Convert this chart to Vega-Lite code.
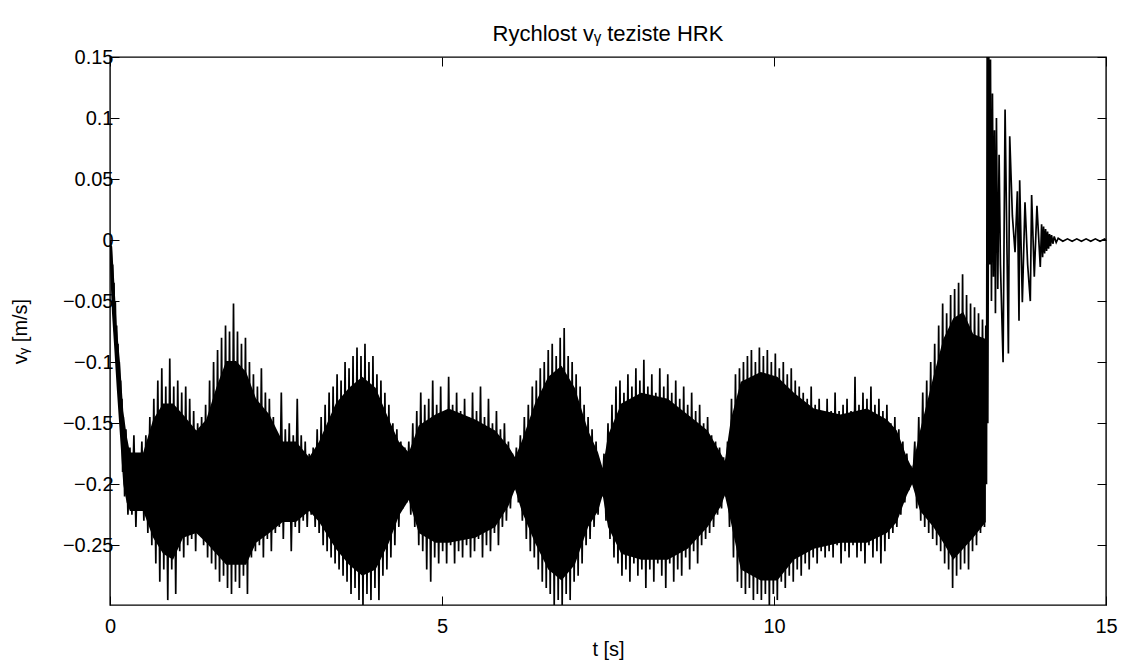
{
"$schema":"https://vega.github.io/schema/vega-lite/v6.json",
"width":996,"height":548,
"autosize":{"type":"none"},
"padding":{"left":110,"top":57,"right":15,"bottom":56},
"background":"white",
"config":{"font":"Liberation Sans","view":{"stroke":"black","strokeWidth":1.4}},
"title":{"text":"Rychlost vᵧ teziste HRK","fontSize":22,"fontWeight":"normal","color":"black","offset":1,"anchor":"middle","font":"Liberation Sans"},
"resolve":{"scale":{"x":"independent","y":"independent"},"axis":{"x":"independent","y":"independent"}},
"layer":[
{"data":{"values":[
{"t":0,"lo":-0.02,"hi":0},{"t":0.03,"lo":-0.06,"hi":-0.005},{"t":0.06,"lo":-0.085,"hi":-0.03},{"t":0.1,"lo":-0.12,"hi":-0.07},{"t":0.15,"lo":-0.16,"hi":-0.1},{"t":0.2,"lo":-0.2,"hi":-0.14},{"t":0.25,"lo":-0.215,"hi":-0.16},
{"t":0.3,"lo":-0.222,"hi":-0.174},{"t":0.5,"lo":-0.222,"hi":-0.174},{"t":0.65,"lo":-0.244,"hi":-0.147},{"t":0.8,"lo":-0.257,"hi":-0.134},{"t":0.95,"lo":-0.262,"hi":-0.134},{"t":1.1,"lo":-0.244,"hi":-0.143},{"t":1.3,"lo":-0.24,"hi":-0.156},{"t":1.45,"lo":-0.248,"hi":-0.147},{"t":1.6,"lo":-0.257,"hi":-0.121},{"t":1.75,"lo":-0.266,"hi":-0.099},{"t":1.9,"lo":-0.266,"hi":-0.099},{"t":2.05,"lo":-0.266,"hi":-0.108},{"t":2.2,"lo":-0.248,"hi":-0.13},{"t":2.4,"lo":-0.24,"hi":-0.143},{"t":2.6,"lo":-0.231,"hi":-0.165},{"t":2.8,"lo":-0.231,"hi":-0.165},{"t":3.0,"lo":-0.222,"hi":-0.178},{"t":3.15,"lo":-0.231,"hi":-0.165},{"t":3.4,"lo":-0.253,"hi":-0.134},{"t":3.6,"lo":-0.266,"hi":-0.121},{"t":3.8,"lo":-0.275,"hi":-0.112},{"t":4.0,"lo":-0.27,"hi":-0.121},{"t":4.2,"lo":-0.248,"hi":-0.147},{"t":4.35,"lo":-0.226,"hi":-0.165},{"t":4.5,"lo":-0.213,"hi":-0.174},{"t":4.65,"lo":-0.24,"hi":-0.152},{"t":4.9,"lo":-0.248,"hi":-0.143},{"t":5.1,"lo":-0.248,"hi":-0.138},{"t":5.5,"lo":-0.244,"hi":-0.147},{"t":5.8,"lo":-0.235,"hi":-0.156},{"t":6.0,"lo":-0.218,"hi":-0.169},{"t":6.1,"lo":-0.204,"hi":-0.178},{"t":6.2,"lo":-0.222,"hi":-0.165},{"t":6.4,"lo":-0.248,"hi":-0.134},{"t":6.6,"lo":-0.27,"hi":-0.112},{"t":6.8,"lo":-0.279,"hi":-0.103},{"t":7.0,"lo":-0.266,"hi":-0.121},{"t":7.2,"lo":-0.235,"hi":-0.156},{"t":7.35,"lo":-0.222,"hi":-0.174},{"t":7.42,"lo":-0.209,"hi":-0.187},{"t":7.5,"lo":-0.235,"hi":-0.16},{"t":7.7,"lo":-0.257,"hi":-0.134},{"t":8.0,"lo":-0.262,"hi":-0.125},{"t":8.4,"lo":-0.262,"hi":-0.13},{"t":8.7,"lo":-0.253,"hi":-0.143},{"t":9.0,"lo":-0.235,"hi":-0.156},{"t":9.2,"lo":-0.218,"hi":-0.175},{"t":9.26,"lo":-0.209,"hi":-0.181},{"t":9.35,"lo":-0.231,"hi":-0.147},{"t":9.5,"lo":-0.27,"hi":-0.116},{"t":9.8,"lo":-0.279,"hi":-0.108},{"t":10.05,"lo":-0.279,"hi":-0.112},{"t":10.3,"lo":-0.262,"hi":-0.125},{"t":10.6,"lo":-0.253,"hi":-0.138},{"t":11.0,"lo":-0.248,"hi":-0.143},{"t":11.4,"lo":-0.248,"hi":-0.138},{"t":11.7,"lo":-0.24,"hi":-0.147},{"t":11.85,"lo":-0.231,"hi":-0.156},{"t":12.0,"lo":-0.209,"hi":-0.178},{"t":12.08,"lo":-0.2,"hi":-0.187},{"t":12.2,"lo":-0.222,"hi":-0.156},{"t":12.4,"lo":-0.235,"hi":-0.112},{"t":12.55,"lo":-0.248,"hi":-0.081},{"t":12.7,"lo":-0.262,"hi":-0.064},{"t":12.85,"lo":-0.253,"hi":-0.059},{"t":13.0,"lo":-0.244,"hi":-0.077},{"t":13.19,"lo":-0.231,"hi":-0.081}
]},
"mark":{"type":"area","color":"black","opacity":1,"clip":true},
"encoding":{
"x":{"field":"t","type":"quantitative","scale":{"domain":[0,15],"nice":false,"zero":false},"axis":null},
"y":{"field":"lo","type":"quantitative","scale":{"domain":[-0.299,0.15],"nice":false,"zero":false},"axis":null},
"y2":{"field":"hi"}
}},
{"data":{"values":[
{"t":0,"v":0.0},{"t":0.01,"v":-0.02},{"t":0.02,"v":-0.005},{"t":0.03,"v":-0.04},{"t":0.04,"v":-0.02},{"t":0.05,"v":-0.06},{"t":0.06,"v":-0.035},{"t":0.07,"v":-0.075},{"t":0.08,"v":-0.05},{"t":0.09,"v":-0.085},{"t":0.10,"v":-0.07},{"t":0.11,"v":-0.1},{"t":0.12,"v":-0.085},{"t":0.13,"v":-0.12},{"t":0.14,"v":-0.1},{"t":0.15,"v":-0.14},{"t":0.16,"v":-0.115},{"t":0.17,"v":-0.16},{"t":0.18,"v":-0.13},{"t":0.19,"v":-0.19},{"t":0.20,"v":-0.145},{"t":0.22,"v":-0.21},{"t":0.24,"v":-0.155},{"t":0.27,"v":-0.225},
{"t":0.30,"v":-0.17},{"t":0.33,"v":-0.225},{"t":0.36,"v":-0.16},{"t":0.39,"v":-0.235},{"t":0.42,"v":-0.175},{"t":0.45,"v":-0.22},{"t":0.48,"v":-0.165},{"t":0.51,"v":-0.23},{"t":0.54,"v":-0.16},
{"t":0.57,"v":-0.24},{"t":0.60,"v":-0.145},{"t":0.63,"v":-0.25},{"t":0.66,"v":-0.13},{"t":0.69,"v":-0.265},{"t":0.72,"v":-0.115},{"t":0.75,"v":-0.28},{"t":0.78,"v":-0.105},{"t":0.81,"v":-0.27},{"t":0.84,"v":-0.12},{"t":0.87,"v":-0.295},{"t":0.90,"v":-0.097},{"t":0.93,"v":-0.27},{"t":0.96,"v":-0.12},{"t":0.99,"v":-0.29},{"t":1.02,"v":-0.115},{"t":1.05,"v":-0.255},{"t":1.08,"v":-0.125},{"t":1.11,"v":-0.26},{"t":1.14,"v":-0.12},{"t":1.17,"v":-0.25},{"t":1.20,"v":-0.13},{"t":1.23,"v":-0.245},{"t":1.26,"v":-0.14},{"t":1.29,"v":-0.255},{"t":1.32,"v":-0.15},{"t":1.35,"v":-0.24},{"t":1.38,"v":-0.145},{"t":1.41,"v":-0.25},{"t":1.44,"v":-0.135},{"t":1.47,"v":-0.26},
{"t":1.50,"v":-0.115},{"t":1.53,"v":-0.265},{"t":1.56,"v":-0.1},{"t":1.59,"v":-0.27},{"t":1.62,"v":-0.09},{"t":1.65,"v":-0.28},{"t":1.68,"v":-0.08},{"t":1.71,"v":-0.275},{"t":1.74,"v":-0.07},{"t":1.77,"v":-0.285},{"t":1.80,"v":-0.075},{"t":1.83,"v":-0.29},{"t":1.86,"v":-0.052},{"t":1.89,"v":-0.28},{"t":1.92,"v":-0.075},{"t":1.95,"v":-0.285},{"t":1.98,"v":-0.085},{"t":2.01,"v":-0.275},{"t":2.04,"v":-0.08},{"t":2.07,"v":-0.29},
{"t":2.10,"v":-0.1},{"t":2.13,"v":-0.26},{"t":2.16,"v":-0.11},{"t":2.19,"v":-0.255},{"t":2.22,"v":-0.12},{"t":2.25,"v":-0.25},{"t":2.28,"v":-0.105},{"t":2.31,"v":-0.26},{"t":2.34,"v":-0.125},{"t":2.37,"v":-0.245},{"t":2.40,"v":-0.13},{"t":2.43,"v":-0.255},
{"t":2.46,"v":-0.145},{"t":2.49,"v":-0.24},{"t":2.52,"v":-0.16},{"t":2.55,"v":-0.235},{"t":2.58,"v":-0.125},{"t":2.61,"v":-0.245},{"t":2.64,"v":-0.155},{"t":2.67,"v":-0.23},{"t":2.70,"v":-0.15},{"t":2.73,"v":-0.255},{"t":2.76,"v":-0.16},{"t":2.79,"v":-0.235},{"t":2.82,"v":-0.13},{"t":2.85,"v":-0.24},{"t":2.88,"v":-0.16},{"t":2.91,"v":-0.23},{"t":2.94,"v":-0.165},{"t":2.97,"v":-0.235},
{"t":3.00,"v":-0.175},{"t":3.03,"v":-0.225},{"t":3.06,"v":-0.17},{"t":3.09,"v":-0.235},
{"t":3.12,"v":-0.155},{"t":3.15,"v":-0.24},{"t":3.18,"v":-0.145},{"t":3.21,"v":-0.25},{"t":3.24,"v":-0.135},{"t":3.27,"v":-0.255},{"t":3.30,"v":-0.125},{"t":3.33,"v":-0.26},{"t":3.36,"v":-0.12},{"t":3.39,"v":-0.265},{"t":3.42,"v":-0.11},{"t":3.45,"v":-0.27},{"t":3.48,"v":-0.115},{"t":3.51,"v":-0.275},{"t":3.54,"v":-0.1},{"t":3.57,"v":-0.28},{"t":3.60,"v":-0.105},{"t":3.63,"v":-0.29},{"t":3.66,"v":-0.095},{"t":3.69,"v":-0.285},{"t":3.72,"v":-0.088},{"t":3.75,"v":-0.295},{"t":3.78,"v":-0.095},{"t":3.81,"v":-0.3},{"t":3.84,"v":-0.085},{"t":3.87,"v":-0.29},{"t":3.90,"v":-0.1},{"t":3.93,"v":-0.295},{"t":3.96,"v":-0.095},{"t":3.99,"v":-0.285},{"t":4.02,"v":-0.11},{"t":4.05,"v":-0.295},{"t":4.08,"v":-0.115},{"t":4.11,"v":-0.275},{"t":4.14,"v":-0.125},{"t":4.17,"v":-0.27},{"t":4.20,"v":-0.135},{"t":4.23,"v":-0.26},{"t":4.26,"v":-0.15},
{"t":4.29,"v":-0.25},{"t":4.32,"v":-0.155},{"t":4.35,"v":-0.235},{"t":4.38,"v":-0.165},{"t":4.41,"v":-0.22},{"t":4.44,"v":-0.17},{"t":4.47,"v":-0.215},{"t":4.50,"v":-0.165},{"t":4.53,"v":-0.225},
{"t":4.56,"v":-0.15},{"t":4.59,"v":-0.235},{"t":4.62,"v":-0.14},{"t":4.65,"v":-0.25},{"t":4.68,"v":-0.125},{"t":4.71,"v":-0.255},{"t":4.74,"v":-0.135},{"t":4.77,"v":-0.27},{"t":4.80,"v":-0.13},{"t":4.83,"v":-0.28},{"t":4.86,"v":-0.115},{"t":4.89,"v":-0.26},{"t":4.92,"v":-0.135},{"t":4.95,"v":-0.265},{"t":4.98,"v":-0.12},{"t":5.01,"v":-0.255},{"t":5.04,"v":-0.14},{"t":5.07,"v":-0.265},{"t":5.10,"v":-0.112},{"t":5.13,"v":-0.25},{"t":5.16,"v":-0.135},{"t":5.19,"v":-0.265},{"t":5.22,"v":-0.125},{"t":5.25,"v":-0.255},{"t":5.28,"v":-0.14},{"t":5.31,"v":-0.26},{"t":5.34,"v":-0.13},{"t":5.37,"v":-0.25},{"t":5.40,"v":-0.145},{"t":5.43,"v":-0.26},{"t":5.46,"v":-0.125},{"t":5.49,"v":-0.255},{"t":5.52,"v":-0.14},{"t":5.55,"v":-0.245},{"t":5.58,"v":-0.12},{"t":5.61,"v":-0.26},{"t":5.64,"v":-0.145},{"t":5.67,"v":-0.25},{"t":5.70,"v":-0.13},{"t":5.73,"v":-0.255},{"t":5.76,"v":-0.15},{"t":5.79,"v":-0.24},{"t":5.82,"v":-0.14},{"t":5.85,"v":-0.25},{"t":5.88,"v":-0.155},{"t":5.91,"v":-0.235},{"t":5.94,"v":-0.15},{"t":5.97,"v":-0.23},{"t":6.00,"v":-0.165},{"t":6.03,"v":-0.22},
{"t":6.06,"v":-0.175},{"t":6.09,"v":-0.205},{"t":6.12,"v":-0.17},{"t":6.15,"v":-0.215},
{"t":6.18,"v":-0.16},{"t":6.21,"v":-0.23},{"t":6.24,"v":-0.145},{"t":6.27,"v":-0.245},{"t":6.30,"v":-0.135},{"t":6.33,"v":-0.255},{"t":6.36,"v":-0.12},{"t":6.39,"v":-0.26},{"t":6.42,"v":-0.115},{"t":6.45,"v":-0.27},{"t":6.48,"v":-0.105},{"t":6.51,"v":-0.28},{"t":6.54,"v":-0.1},{"t":6.57,"v":-0.285},{"t":6.60,"v":-0.09},{"t":6.63,"v":-0.29},{"t":6.66,"v":-0.085},{"t":6.69,"v":-0.3},{"t":6.72,"v":-0.095},{"t":6.75,"v":-0.295},{"t":6.78,"v":-0.08},{"t":6.81,"v":-0.3},{"t":6.84,"v":-0.072},{"t":6.87,"v":-0.29},{"t":6.90,"v":-0.095},{"t":6.93,"v":-0.295},{"t":6.96,"v":-0.1},{"t":6.99,"v":-0.28},{"t":7.02,"v":-0.11},{"t":7.05,"v":-0.275},{"t":7.08,"v":-0.12},{"t":7.11,"v":-0.265},{"t":7.14,"v":-0.135},{"t":7.17,"v":-0.25},{"t":7.20,"v":-0.145},{"t":7.23,"v":-0.245},{"t":7.26,"v":-0.155},{"t":7.29,"v":-0.235},{"t":7.32,"v":-0.165},{"t":7.35,"v":-0.225},
{"t":7.38,"v":-0.185},{"t":7.41,"v":-0.21},{"t":7.44,"v":-0.175},{"t":7.47,"v":-0.23},
{"t":7.50,"v":-0.15},{"t":7.53,"v":-0.245},{"t":7.56,"v":-0.135},{"t":7.59,"v":-0.26},{"t":7.62,"v":-0.12},{"t":7.65,"v":-0.265},{"t":7.68,"v":-0.115},{"t":7.71,"v":-0.275},{"t":7.74,"v":-0.125},{"t":7.77,"v":-0.27},{"t":7.80,"v":-0.11},{"t":7.83,"v":-0.28},{"t":7.86,"v":-0.12},{"t":7.89,"v":-0.265},{"t":7.92,"v":-0.105},{"t":7.95,"v":-0.275},{"t":7.98,"v":-0.115},{"t":8.01,"v":-0.27},{"t":8.04,"v":-0.098},{"t":8.07,"v":-0.285},{"t":8.10,"v":-0.12},{"t":8.13,"v":-0.27},{"t":8.16,"v":-0.11},{"t":8.19,"v":-0.28},{"t":8.22,"v":-0.125},{"t":8.25,"v":-0.265},{"t":8.28,"v":-0.105},{"t":8.31,"v":-0.275},{"t":8.34,"v":-0.12},{"t":8.37,"v":-0.285},{"t":8.40,"v":-0.11},{"t":8.43,"v":-0.265},{"t":8.46,"v":-0.125},{"t":8.49,"v":-0.28},{"t":8.52,"v":-0.115},{"t":8.55,"v":-0.27},{"t":8.58,"v":-0.13},{"t":8.61,"v":-0.275},{"t":8.64,"v":-0.12},{"t":8.67,"v":-0.26},{"t":8.70,"v":-0.135},{"t":8.73,"v":-0.27},{"t":8.76,"v":-0.125},{"t":8.79,"v":-0.255},{"t":8.82,"v":-0.14},{"t":8.85,"v":-0.265},{"t":8.88,"v":-0.135},{"t":8.91,"v":-0.25},{"t":8.94,"v":-0.15},{"t":8.97,"v":-0.245},{"t":9.00,"v":-0.145},{"t":9.03,"v":-0.24},{"t":9.06,"v":-0.16},{"t":9.09,"v":-0.235},{"t":9.12,"v":-0.165},{"t":9.15,"v":-0.225},{"t":9.18,"v":-0.17},{"t":9.21,"v":-0.22},
{"t":9.24,"v":-0.178},{"t":9.27,"v":-0.21},{"t":9.30,"v":-0.165},{"t":9.33,"v":-0.235},
{"t":9.36,"v":-0.13},{"t":9.39,"v":-0.26},{"t":9.42,"v":-0.11},{"t":9.45,"v":-0.28},{"t":9.48,"v":-0.105},{"t":9.51,"v":-0.285},{"t":9.54,"v":-0.1},{"t":9.57,"v":-0.29},{"t":9.60,"v":-0.095},{"t":9.63,"v":-0.285},{"t":9.66,"v":-0.09},{"t":9.69,"v":-0.295},{"t":9.72,"v":-0.1},{"t":9.75,"v":-0.29},{"t":9.78,"v":-0.088},{"t":9.81,"v":-0.295},{"t":9.84,"v":-0.095},{"t":9.87,"v":-0.29},{"t":9.90,"v":-0.09},{"t":9.93,"v":-0.3},{"t":9.96,"v":-0.1},{"t":9.99,"v":-0.29},{"t":10.02,"v":-0.093},{"t":10.05,"v":-0.295},{"t":10.08,"v":-0.105},{"t":10.11,"v":-0.28},
{"t":10.14,"v":-0.1},{"t":10.17,"v":-0.285},{"t":10.20,"v":-0.11},{"t":10.23,"v":-0.275},{"t":10.26,"v":-0.105},{"t":10.29,"v":-0.28},{"t":10.32,"v":-0.115},{"t":10.35,"v":-0.27},{"t":10.38,"v":-0.12},{"t":10.41,"v":-0.275},{"t":10.44,"v":-0.125},{"t":10.47,"v":-0.265},{"t":10.50,"v":-0.13},{"t":10.53,"v":-0.27},{"t":10.56,"v":-0.12},{"t":10.59,"v":-0.26},{"t":10.62,"v":-0.135},{"t":10.65,"v":-0.265},{"t":10.68,"v":-0.13},{"t":10.71,"v":-0.255},{"t":10.74,"v":-0.14},{"t":10.77,"v":-0.26},{"t":10.80,"v":-0.13},{"t":10.83,"v":-0.255},{"t":10.86,"v":-0.14},{"t":10.89,"v":-0.26},{"t":10.92,"v":-0.125},{"t":10.95,"v":-0.25},{"t":10.98,"v":-0.14},{"t":11.01,"v":-0.265},{"t":11.04,"v":-0.135},{"t":11.07,"v":-0.255},{"t":11.10,"v":-0.13},{"t":11.13,"v":-0.26},{"t":11.16,"v":-0.14},{"t":11.19,"v":-0.25},{"t":11.22,"v":-0.112},{"t":11.25,"v":-0.26},{"t":11.28,"v":-0.135},{"t":11.31,"v":-0.255},{"t":11.34,"v":-0.125},{"t":11.37,"v":-0.265},{"t":11.40,"v":-0.13},{"t":11.43,"v":-0.25},{"t":11.46,"v":-0.12},{"t":11.49,"v":-0.26},{"t":11.52,"v":-0.135},{"t":11.55,"v":-0.255},{"t":11.58,"v":-0.13},{"t":11.61,"v":-0.265},{"t":11.64,"v":-0.14},{"t":11.67,"v":-0.255},{"t":11.70,"v":-0.135},{"t":11.73,"v":-0.245},{"t":11.76,"v":-0.15},{"t":11.79,"v":-0.24},{"t":11.82,"v":-0.145},{"t":11.85,"v":-0.235},
{"t":11.88,"v":-0.155},{"t":11.91,"v":-0.225},{"t":11.94,"v":-0.165},{"t":11.97,"v":-0.215},{"t":12.00,"v":-0.175},{"t":12.03,"v":-0.205},{"t":12.06,"v":-0.185},{"t":12.09,"v":-0.2},
{"t":12.12,"v":-0.165},{"t":12.15,"v":-0.22},{"t":12.18,"v":-0.145},{"t":12.21,"v":-0.23},{"t":12.24,"v":-0.125},{"t":12.27,"v":-0.235},{"t":12.30,"v":-0.115},{"t":12.33,"v":-0.24},{"t":12.36,"v":-0.1},{"t":12.39,"v":-0.245},{"t":12.42,"v":-0.085},{"t":12.45,"v":-0.25},{"t":12.48,"v":-0.07},{"t":12.51,"v":-0.255},{"t":12.54,"v":-0.052},{"t":12.57,"v":-0.265},{"t":12.60,"v":-0.06},{"t":12.63,"v":-0.27},{"t":12.66,"v":-0.045},{"t":12.69,"v":-0.285},{"t":12.72,"v":-0.04},{"t":12.75,"v":-0.275},{"t":12.78,"v":-0.035},{"t":12.81,"v":-0.27},{"t":12.84,"v":-0.028},{"t":12.87,"v":-0.265},{"t":12.90,"v":-0.045},{"t":12.93,"v":-0.27},{"t":12.96,"v":-0.052},{"t":12.99,"v":-0.255},{"t":13.02,"v":-0.055},{"t":13.05,"v":-0.25},{"t":13.08,"v":-0.06},{"t":13.11,"v":-0.24},{"t":13.14,"v":-0.065},{"t":13.17,"v":-0.235},{"t":13.19,"v":-0.07},{"t":13.20,"v":-0.2},
{"t":13.21,"v":0.15},{"t":13.22,"v":-0.15},{"t":13.235,"v":0.15},{"t":13.25,"v":-0.02},{"t":13.26,"v":0.148},{"t":13.275,"v":-0.05},{"t":13.29,"v":0.12},{"t":13.305,"v":-0.03},{"t":13.32,"v":0.09},{"t":13.335,"v":-0.06},{"t":13.35,"v":0.1},{"t":13.37,"v":-0.04},{"t":13.39,"v":0.07},{"t":13.41,"v":-0.02},{"t":13.45,"v":-0.1},{"t":13.48,"v":0.107},{"t":13.53,"v":-0.093},{"t":13.55,"v":0.085},{"t":13.59,"v":0.02},{"t":13.63,"v":-0.01},{"t":13.665,"v":0.04},{"t":13.69,"v":-0.066},{"t":13.70,"v":0.049},{"t":13.74,"v":-0.051},{"t":13.78,"v":0.031},{"t":13.82,"v":-0.02},{"t":13.86,"v":-0.05},{"t":13.88,"v":0.037},{"t":13.92,"v":-0.03},{"t":13.96,"v":0.028},{"t":14.01,"v":-0.022},{"t":14.03,"v":0.013},{"t":14.045,"v":-0.014},{"t":14.06,"v":0.011},{"t":14.075,"v":-0.011},{"t":14.09,"v":0.009},{"t":14.105,"v":-0.009},{"t":14.12,"v":0.007},{"t":14.135,"v":-0.007},{"t":14.15,"v":0.005},{"t":14.165,"v":-0.005},{"t":14.18,"v":0.004},{"t":14.20,"v":-0.003},{"t":14.22,"v":0.003},{"t":14.25,"v":-0.002},{"t":14.28,"v":0.0015},
{"t":14.35,"v":-0.001},{"t":14.42,"v":0.001},{"t":14.49,"v":-0.001},{"t":14.56,"v":0.001},{"t":14.63,"v":-0.001},{"t":14.70,"v":0.001},{"t":14.77,"v":-0.001},{"t":14.84,"v":0.001},{"t":14.91,"v":-0.001},{"t":14.98,"v":0.0008},{"t":15.0,"v":0.0}
]},
"mark":{"type":"line","color":"black","strokeWidth":1.7,"clip":true},
"encoding":{
"x":{"field":"t","type":"quantitative","scale":{"domain":[0,15],"nice":false,"zero":false},
"axis":{"orient":"bottom","values":[0,5,10,15],"format":"~g","labelFlush":false,"domain":false,"grid":false,"tickSize":-9,"tickColor":"black","labelPadding":20,"labelFontSize":20,"labelColor":"black","labelFont":"Liberation Sans","title":"t [s]","titleFontSize":20,"titleFontWeight":"normal","titleColor":"black","titleFont":"Liberation Sans","titlePadding":3}},
"y":{"field":"v","type":"quantitative","scale":{"domain":[-0.299,0.15],"nice":false,"zero":false},
"axis":{"orient":"left","values":[-0.25,-0.2,-0.15,-0.1,-0.05,0,0.05,0.1,0.15],"format":"~g","labelFlush":false,"domain":false,"grid":false,"tickSize":-9,"tickColor":"black","labelPadding":6,"labelFontSize":20,"labelColor":"black","labelFont":"Liberation Sans","title":"vᵧ [m/s]","titleFontSize":20,"titleFontWeight":"normal","titleColor":"black","titleFont":"Liberation Sans","titlePadding":32}}
}},
{"data":{"values":[{"t":0,"v":0}]},
"mark":{"type":"point","opacity":0},
"encoding":{
"x":{"field":"t","type":"quantitative","scale":{"domain":[0,15],"nice":false,"zero":false},"axis":{"orient":"top","values":[0,5,10,15],"labels":false,"domain":false,"grid":false,"tickSize":-9,"tickColor":"black","title":null}},
"y":{"field":"v","type":"quantitative","scale":{"domain":[-0.299,0.15],"nice":false,"zero":false},"axis":{"orient":"right","values":[-0.25,-0.2,-0.15,-0.1,-0.05,0,0.05,0.1,0.15],"labels":false,"domain":false,"grid":false,"tickSize":-9,"tickColor":"black","title":null}}
}}
]
}
